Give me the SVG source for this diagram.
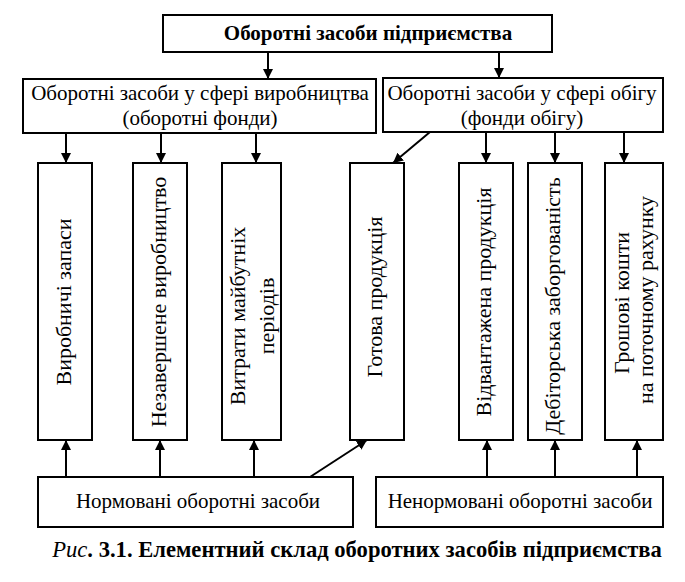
<svg xmlns="http://www.w3.org/2000/svg" width="685" height="582" viewBox="0 0 685 582">
<style>
.box{fill:#fff;stroke:#000;stroke-width:2}
.t{font-family:"Liberation Serif","Times New Roman",serif;font-size:21px;fill:#000;text-anchor:middle}
.v{font-size:22px}
.b{font-weight:bold;font-size:21px}
.cap{font-weight:bold;font-size:22.6px}
.ln{stroke:#000;stroke-width:2;fill:none;marker-end:url(#ah)}
</style>
<defs>
<marker id="ah" markerUnits="userSpaceOnUse" markerWidth="11" markerHeight="10" refX="10" refY="5" orient="auto">
<path d="M0,0 L10,5 L0,10 Z" fill="#000"/>
</marker>
</defs>
<rect width="685" height="582" fill="#fff"/>
<g id="connectors">
<line class="ln" x1="268" y1="52" x2="268" y2="79"/>
<line class="ln" x1="499" y1="52" x2="499" y2="78"/>
<line class="ln" x1="66" y1="133" x2="66" y2="163"/>
<line class="ln" x1="161" y1="133" x2="161" y2="163"/>
<line class="ln" x1="256" y1="133" x2="256" y2="163"/>
<line class="ln" x1="430" y1="132" x2="393" y2="163"/>
<line class="ln" x1="486" y1="132" x2="486" y2="163"/>
<line class="ln" x1="555" y1="132" x2="555" y2="163"/>
<line class="ln" x1="624" y1="132" x2="624" y2="163"/>
<line class="ln" x1="66" y1="477" x2="66" y2="440"/>
<line class="ln" x1="160" y1="477" x2="160" y2="440"/>
<line class="ln" x1="254" y1="477" x2="254" y2="440"/>
<line class="ln" x1="310" y1="477" x2="367" y2="440"/>
<line class="ln" x1="487" y1="477" x2="487" y2="440"/>
<line class="ln" x1="555" y1="477" x2="555" y2="440"/>
<line class="ln" x1="637" y1="477" x2="637" y2="440"/>
</g>
<g id="top">
<rect class="box" x="163" y="15" width="389" height="37"/>
<text class="t b" x="368" y="40">Оборотні засоби підприємства</text>
</g>
<g id="prod">
<rect class="box" x="23" y="79" width="353" height="54"/>
<text class="t" x="200" y="100">Оборотні засоби у сфері виробництва</text>
<text class="t" x="200" y="125">(оборотні фонди)</text>
</g>
<g id="circ">
<rect class="box" x="383" y="78" width="280" height="54"/>
<text class="t" x="522" y="100">Оборотні засоби у сфері обігу</text>
<text class="t" x="522" y="125">(фонди обігу)</text>
</g>
<g id="leaf1">
<rect class="box" x="38" y="163" width="54" height="277"/>
<text class="t v" transform="translate(71,302) rotate(-90)">Виробничі запаси</text>
</g>
<g id="leaf2">
<rect class="box" x="133" y="163" width="54" height="277"/>
<text class="t v" transform="translate(166,302) rotate(-90)">Незавершене виробництво</text>
</g>
<g id="leaf3">
<rect class="box" x="222" y="163" width="59" height="277"/>
<text class="t v" transform="translate(245,316) rotate(-90)">Витрати майбутніх</text>
<text class="t v" transform="translate(274,316) rotate(-90)">періодів</text>
</g>
<g id="leaf4">
<rect class="box" x="350" y="163" width="54" height="277"/>
<text class="t v" transform="translate(382,297) rotate(-90)">Готова продукція</text>
</g>
<g id="leaf5">
<rect class="box" x="459" y="163" width="54" height="277"/>
<text class="t v" transform="translate(491,302) rotate(-90)">Відвантажена продукція</text>
</g>
<g id="leaf6">
<rect class="box" x="528" y="163" width="54" height="277"/>
<text class="t v" transform="translate(560,306) rotate(-90)">Дебіторська заборгованість</text>
</g>
<g id="leaf7">
<rect class="box" x="605" y="163" width="58" height="277"/>
<text class="t v" transform="translate(629,303) rotate(-90)">Грошові кошти</text>
<text class="t v" transform="translate(653,300) rotate(-90)">на поточному рахунку</text>
</g>
<g id="norm">
<rect class="box" x="38" y="477" width="315" height="50"/>
<text class="t" x="198" y="508">Нормовані оборотні засоби</text>
</g>
<g id="nonnorm">
<rect class="box" x="376" y="477" width="287" height="50"/>
<text class="t" x="520" y="508">Ненормовані оборотні засоби</text>
</g>
<text class="t cap" x="357" y="557"><tspan font-style="italic" font-weight="normal">Рис</tspan>. 3.1. Елементний склад оборотних засобів підприємства</text>
</svg>
